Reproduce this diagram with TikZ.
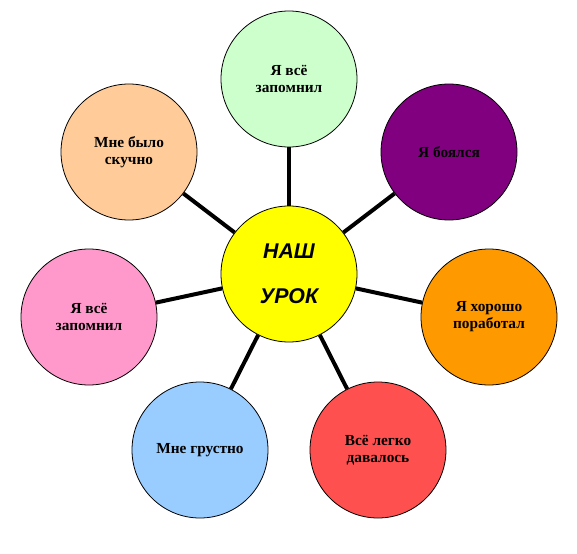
\documentclass[tikz,border=0pt]{standalone}
\usepackage{fontspec}
\setmainfont{Liberation Serif}
\newfontfamily\arialfont{Liberation Sans}
\definecolor{greencol}{HTML}{CCFFCC}
\definecolor{purplecol}{HTML}{800080}
\definecolor{orangecol}{HTML}{FF9900}
\definecolor{redcol}{HTML}{FF5050}
\definecolor{bluecol}{HTML}{99CCFF}
\definecolor{pinkcol}{HTML}{FF99CC}
\definecolor{peachcol}{HTML}{FFCC99}
\definecolor{yelcol}{HTML}{FFFF00}
\begin{document}
\begin{tikzpicture}[x=0.75pt,y=-0.75pt,
  petal/.style={circle,draw=black,line width=0.6pt,minimum size=102pt,inner sep=0pt,align=center,font=\bfseries\fontsize{11.5}{12.8}\selectfont},
  spoke/.style={line width=3pt}]
\path[use as bounding box] (0,0) rectangle (577,553);
\node[petal,fill=yelcol,font=\arialfont\bfseries\itshape\fontsize{16}{34}\selectfont] (urok) at (289,274) {НАШ\\УРОК};
\node[petal,fill=greencol] (top) at (289,79) {Я всё\\запомнил};
\node[petal,fill=purplecol] (fear) at (449,152) {Я боялся};
\node[petal,fill=orangecol] (work) at (489,317) {Я хорошо\\поработал};
\node[petal,fill=redcol] (easy) at (378,450) {Всё легко\\давалось};
\node[petal,fill=bluecol] (sad) at (200,450) {Мне грустно};
\node[petal,fill=pinkcol] (left) at (89,317) {Я всё\\запомнил};
\node[petal,fill=peachcol] (bored) at (129,152) {Мне было\\скучно};
\draw[spoke](urok)--(top);
\draw[spoke](urok)--(fear);
\draw[spoke](urok)--(work);
\draw[spoke](urok)--(easy);
\draw[spoke](urok)--(sad);
\draw[spoke](urok)--(left);
\draw[spoke](urok)--(bored);
\end{tikzpicture}
\end{document}
